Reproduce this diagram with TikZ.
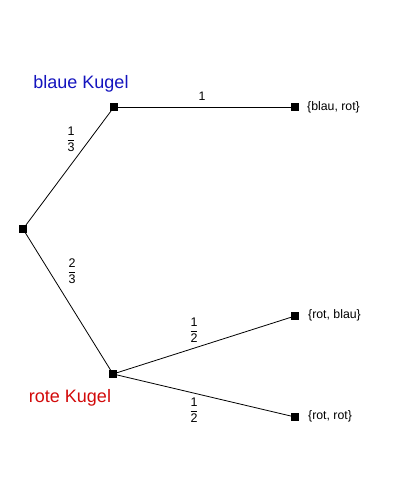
\documentclass[tikz,border=0pt]{standalone}
\usepackage{amsmath}
\usepackage{fontspec}
\setmainfont{Liberation Sans}
\definecolor{kblue}{RGB}{20,20,190}
\definecolor{kred}{RGB}{210,10,10}
\begin{document}
\begin{tikzpicture}[x=1pt,y=-1pt,
  pt/.style={fill=black,inner sep=0pt,minimum size=7.5pt},
  lbl/.style={font=\fontsize{12.3}{14}\selectfont,inner sep=0pt},
  frac/.style={font=\fontsize{12.5}{14}\selectfont,inner sep=0pt},
  big/.style={font=\fontsize{18}{21}\selectfont,inner sep=0pt},
  edge/.style={line width=0.8pt}]
\useasboundingbox (0,0) rectangle (400,500);
\node[pt] (r) at (23,229) {};
\node[pt] (b) at (114,107) {};
\node[pt] (rk) at (113,374) {};
\node[pt] (l1) at (295,107) {};
\node[pt] (l2) at (295,316) {};
\node[pt] (l3) at (295,417) {};
\draw[edge] (r) -- (b);
\draw[edge] (r) -- (rk);
\draw[edge] (b) -- (l1);
\draw[edge] (rk.center) -- (l2);
\draw[edge] (rk.center) -- (l3);
\node[big,text=kblue] (tb) at (81,84) {blaue Kugel};
\node[big,text=kred] (tr) at (70,398) {rote Kugel};
\node[lbl] (e1) at (202,96) {1};
\node[frac] (f1) at (71,139) {$\dfrac{\text{1}}{\text{3}}$};
\node[frac] (f2) at (72,271) {$\dfrac{\text{2}}{\text{3}}$};
\node[frac] (f3) at (194,330) {$\dfrac{\text{1}}{\text{2}}$};
\node[frac] (f4) at (194,410) {$\dfrac{\text{1}}{\text{2}}$};
\node[lbl,anchor=west] (t1) at (307,107) {\{blau, rot\}};
\node[lbl,anchor=west] (t2) at (308,315) {\{rot, blau\}};
\node[lbl,anchor=west] (t3) at (308,416) {\{rot, rot\}};
\end{tikzpicture}
\end{document}
